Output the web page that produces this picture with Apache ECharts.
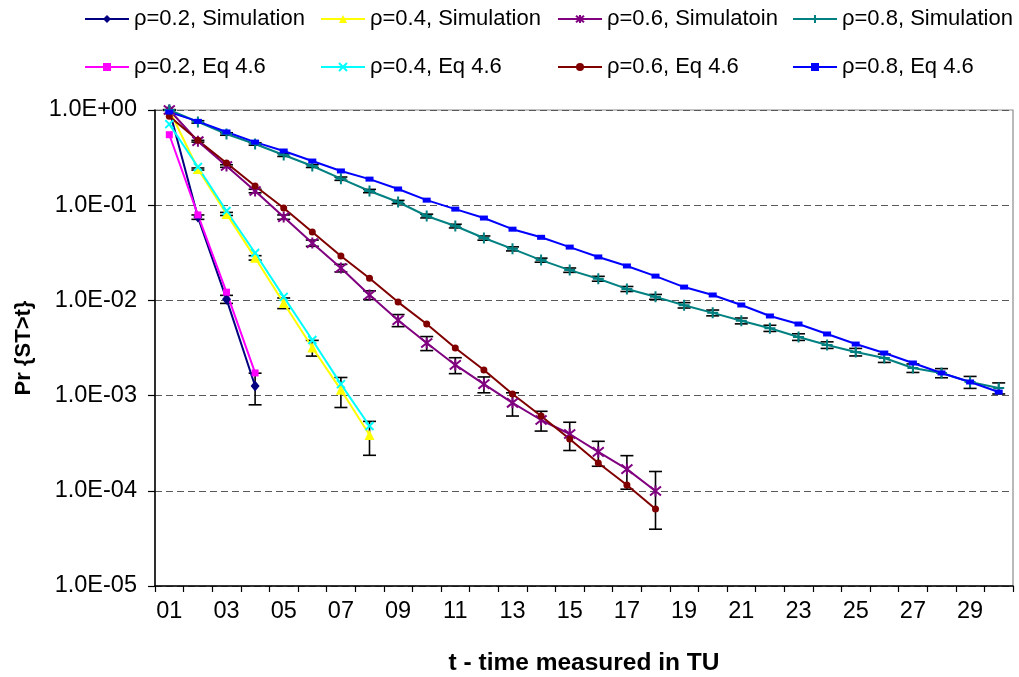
<!DOCTYPE html>
<html>
<head>
<meta charset="utf-8">
<script src="https://cdn.jsdelivr.net/npm/echarts@6/dist/echarts.min.js"></script>
<style>
  html, body { margin: 0; padding: 0; background: #ffffff; }
  #chart { width: 1019px; height: 677px; }
</style>
</head>
<body>
<div id="chart"></div>
<script>
// Time steps t = 01 .. 30 (TU)
const categories = ['01','02','03','04','05','06','07','08','09','10',
                    '11','12','13','14','15','16','17','18','19','20',
                    '21','22','23','24','25','26','27','28','29','30'];

// Pr{ST>t}, simulation results and Eq 4.6 for each load rho
const rho02Sim = [1.0, 0.075, 0.0103, 0.00126];
const rho02SimErr = [0, 0.004, 0.001, 0.00046];
const rho02Eq = [0.55, 0.079, 0.0122, 0.00173];

const rho04Sim = [1.0, 0.24, 0.081, 0.028, 0.0094, 0.0032, 0.00115, 0.000386];
const rho04SimErr = [0, 0.006, 0.003, 0.0015, 0.0012, 0.0006, 0.0004, 0.00015];
const rho04Eq = [0.71, 0.252, 0.087, 0.0315, 0.0109, 0.00384, 0.00132, 0.00048];

const rho06Sim = [1.0, 0.47, 0.258, 0.141, 0.075, 0.040, 0.0219, 0.0114, 0.0062, 0.00357,
                  0.0021, 0.00132, 0.00084, 0.000554, 0.000395, 0.000256, 0.000169, 0.0000995];
const rho06SimErr = [0, 0.01, 0.008, 0.006, 0.004, 0.003, 0.002, 0.0012, 0.0009, 0.0006,
                     0.0004, 0.00025, 0.00023, 0.00013, 0.00013, 0.000075, 0.000065, 0.00006];
const rho06Eq = [0.86, 0.48, 0.277, 0.159, 0.0935, 0.0523, 0.0293, 0.0171, 0.0096, 0.00565,
                 0.00316, 0.00186, 0.00104, 0.00061, 0.00035, 0.000196, 0.000115, 0.0000644];

const rho08Sim = [1.0, 0.75, 0.56, 0.44, 0.337, 0.258, 0.19, 0.141, 0.108, 0.077,
                  0.0604, 0.0452, 0.0348, 0.0265, 0.0208, 0.0169, 0.0132, 0.0109, 0.0089, 0.0074,
                  0.0061, 0.0051, 0.00413, 0.0034, 0.00287, 0.00248, 0.00195, 0.00173, 0.00139, 0.0012];
const rho08SimErr = [0.01, 0.022, 0.017, 0.013, 0.012, 0.009, 0.0076, 0.0056, 0.0043, 0.0035,
                     0.0027, 0.0023, 0.0017, 0.0013, 0.0011, 0.001, 0.0008, 0.00065, 0.00058, 0.00052,
                     0.00043, 0.00038, 0.00033, 0.00027, 0.00026, 0.00025, 0.0002, 0.00019, 0.0002, 0.00016];
const rho08Eq = [0.95, 0.76, 0.588, 0.46, 0.371, 0.291, 0.229, 0.188, 0.148, 0.113,
                 0.091, 0.0733, 0.056, 0.046, 0.0363, 0.0286, 0.023, 0.018, 0.0138, 0.0114,
                 0.00895, 0.00686, 0.00565, 0.00444, 0.00348, 0.0028, 0.0022, 0.00173, 0.00139, 0.00109];

const FONT = '"Liberation Sans", Arial, sans-serif';

// Marker outlines drawn as strokes
const SYM_ASTERISK = 'path://M0,0L10,10M10,0L0,10M5,-1L5,11';
const SYM_PLUS = 'path://M5,0L5,10M0,5L10,5';
const SYM_CROSS = 'path://M0,0L10,10M10,0L0,10';

function lineSeries(name, data, color, symbol, size, stroked) {
  return {
    name: name,
    type: 'line',
    data: data,
    z: 3,
    symbol: symbol,
    symbolSize: size,
    showAllSymbol: true,
    lineStyle: { color: color, width: 2 },
    itemStyle: stroked
      ? { color: color, borderColor: color, borderWidth: 2 }
      : { color: color, borderWidth: 0 },
    emphasis: { disabled: true },
    animation: false
  };
}

// Symmetric +/- error bars around each simulated point
function errorSeries(values, errs) {
  const rows = values.map((v, i) => [i, v - errs[i], v + errs[i]])
    .filter((r, i) => errs[i] > 0);
  return {
    type: 'custom',
    z: 2,
    silent: true,
    animation: false,
    encode: { x: 0, y: [1, 2] },
    data: rows,
    renderItem: function (params, api) {
      const x = api.value(0);
      const lo = api.coord([x, api.value(1)]);
      const hi = api.coord([x, api.value(2)]);
      const w = 6.5;
      const st = { stroke: '#000000', lineWidth: 1.6 };
      return {
        type: 'group',
        children: [
          { type: 'line', shape: { x1: hi[0], y1: hi[1], x2: lo[0], y2: lo[1] }, style: st },
          { type: 'line', shape: { x1: hi[0] - w, y1: hi[1], x2: hi[0] + w, y2: hi[1] }, style: st },
          { type: 'line', shape: { x1: lo[0] - w, y1: lo[1], x2: lo[0] + w, y2: lo[1] }, style: st }
        ]
      };
    }
  };
}

function expLabel(v) {
  const e = Math.round(Math.log10(v));
  const s = Math.abs(e) < 10 ? '0' + Math.abs(e) : String(Math.abs(e));
  return '1.0E' + (e < 0 ? '-' : '+') + s;
}

const legendBase = {
  orient: 'vertical',
  top: 7,
  padding: 0,
  itemWidth: 44,
  itemHeight: 10,
  itemGap: 24,
  textStyle: { fontFamily: FONT, fontSize: 22, color: '#000000', lineHeight: 24 },
  selectedMode: false
};

const chart = echarts.init(document.getElementById('chart'), null, { renderer: 'canvas' });

chart.setOption({
  backgroundColor: '#ffffff',
  animation: false,
  legend: [
    Object.assign({}, legendBase, { left: 84, data: ['ρ=0.2, Simulation', 'ρ=0.2, Eq 4.6'] }),
    Object.assign({}, legendBase, { left: 320, data: ['ρ=0.4, Simulation', 'ρ=0.4, Eq 4.6'] }),
    Object.assign({}, legendBase, { left: 557, data: ['ρ=0.6, Simulatoin', 'ρ=0.6, Eq 4.6'] }),
    Object.assign({}, legendBase, { left: 792, data: ['ρ=0.8, Simulation', 'ρ=0.8, Eq 4.6'] })
  ],
  grid: {
    left: 155, right: 6, top: 110, bottom: 91,
    outerBoundsMode: 'none',
    containLabel: false,
    show: true, borderColor: '#8c8c8c', borderWidth: 1.2, backgroundColor: '#ffffff'
  },
  xAxis: {
    type: 'category',
    data: categories,
    boundaryGap: true,
    name: 't - time measured in TU',
    nameLocation: 'middle',
    nameGap: 65,
    nameTextStyle: { fontFamily: FONT, fontSize: 24.5, fontWeight: 'bold', color: '#000000' },
    axisLine: { show: true, lineStyle: { color: '#000000', width: 1.5 } },
    axisTick: { show: true, interval: 0, length: 6, inside: false, lineStyle: { color: '#000000', width: 1.2 } },
    axisLabel: { interval: 1, margin: 14, fontFamily: FONT, fontSize: 23.5, color: '#000000' },
    splitLine: { show: false }
  },
  yAxis: {
    type: 'log',
    logBase: 10,
    min: 0.00001,
    max: 1,
    splitNumber: 5,
    name: 'Pr {ST>t}',
    nameLocation: 'middle',
    nameRotate: 90,
    nameGap: 120,
    nameTextStyle: { fontFamily: FONT, fontSize: 22, fontWeight: 'bold', color: '#000000' },
    axisLine: { show: true, lineStyle: { color: '#000000', width: 1.5 } },
    axisTick: { show: true, length: 7, inside: false, lineStyle: { color: '#000000', width: 1.2 } },
    minorTick: { show: false },
    axisLabel: { margin: 18, fontFamily: FONT, fontSize: 23.5, color: '#000000', formatter: expLabel },
    splitLine: { show: true, lineStyle: { color: '#595959', width: 1.2, type: [7, 4] } }
  },
  series: [
    errorSeries(rho02Sim, rho02SimErr),
    errorSeries(rho04Sim, rho04SimErr),
    errorSeries(rho06Sim, rho06SimErr),
    errorSeries(rho08Sim, rho08SimErr),
    lineSeries('ρ=0.2, Simulation', rho02Sim, '#000080', 'diamond', [9, 11], false),
    lineSeries('ρ=0.4, Simulation', rho04Sim, '#FFFF00', 'triangle', 10, false),
    lineSeries('ρ=0.6, Simulatoin', rho06Sim, '#800080', SYM_ASTERISK, 11, true),
    lineSeries('ρ=0.8, Simulation', rho08Sim, '#008080', SYM_PLUS, 11, true),
    lineSeries('ρ=0.2, Eq 4.6', rho02Eq, '#FF00FF', 'rect', 7, false),
    lineSeries('ρ=0.4, Eq 4.6', rho04Eq, '#00FFFF', SYM_CROSS, 8, true),
    lineSeries('ρ=0.6, Eq 4.6', rho06Eq, '#800000', 'circle', 7, false),
    lineSeries('ρ=0.8, Eq 4.6', rho08Eq, '#0000FF', 'rect', [8, 5], false)
  ]
});
</script>
</body>
</html>
